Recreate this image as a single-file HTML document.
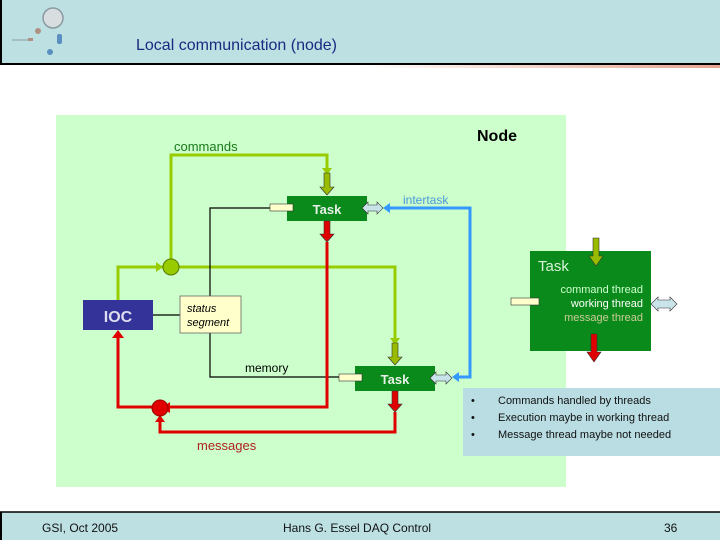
<!DOCTYPE html>
<html><head><style>
body{margin:0;width:720px;height:540px;overflow:hidden;background:#fff;font-family:"Liberation Sans",sans-serif;}
</style></head><body>
<svg width="720" height="540" xmlns="http://www.w3.org/2000/svg" font-family="Liberation Sans, sans-serif">
<defs>
<linearGradient id="g" x1="0" x2="1"><stop offset="0" stop-color="#fff"/><stop offset="0.5" stop-color="#fff"/><stop offset="1" stop-color="#e4a58f"/></linearGradient>
</defs>
<rect x="0" y="0" width="720" height="63" fill="#bde0e3"/>
<line x1="0" y1="64" x2="720" y2="64" stroke="#000" stroke-width="2"/>
<rect x="0" y="65" width="720" height="3" fill="url(#g)"/>
<rect x="0" y="0" width="2" height="64" fill="#000"/>
<circle cx="53" cy="18" r="10" fill="#d8dee0" stroke="#8a9aa0" stroke-width="1.5"/>
<line x1="12" y1="40" x2="30" y2="40" stroke="#8a9aa0"/>
<circle cx="38" cy="31" r="3" fill="#b09080"/>
<rect x="28" y="38" width="5" height="3" fill="#b09080"/>
<rect x="57" y="34" width="5" height="10" rx="2" fill="#5a8fbf"/>
<circle cx="50" cy="52" r="3" fill="#5a8fbf"/>
<text x="136" y="50" font-size="16" fill="#1a2a80">Local communication (node)</text>

<rect x="56" y="115" width="510" height="372" fill="#ccffcc"/>
<text x="477" y="141" font-size="16" font-weight="bold" fill="#000">Node</text>
<text x="174" y="151" font-size="13" fill="#1a7a1a">commands</text>
<text x="403" y="204" font-size="12" fill="#4a9ad8">intertask</text>

<g fill="none" stroke="#99cc00" stroke-width="3">
<polyline points="171,259 171,155 327,155 327,170"/>
<polyline points="118,300 118,267 163,267"/>
<polyline points="179,267 395,267 395,340"/>
</g>
<g fill="none" stroke="#000" stroke-width="1.2">
<polyline points="270,208 210,208 210,296"/>
<polyline points="210,333 210,377 339,377"/>
<line x1="153" y1="315" x2="180" y2="315"/>
</g>
<g fill="none" stroke="#e00000" stroke-width="3">
<polyline points="327,242 327,407 170,407"/>
<polyline points="152,407 118,407 118,336"/>
<polyline points="395,412 395,432 160,432 160,420"/>
</g>
<polygon points="112,338 118,330 124,338" fill="#e00000"/>
<polygon points="170,402 162,408 170,413" fill="#e00000"/>
<polygon points="155,422 160,415 165,422" fill="#e00000"/>
<polygon points="156,262 163,267 156,272" fill="#99cc00"/>
<polygon points="322,168 327,175 332,168" fill="#99cc00"/>
<polygon points="390,338 395,345 400,338" fill="#99cc00"/>
<polyline points="385,208 470,208 470,377 455,377" fill="none" stroke="#3399ff" stroke-width="3"/>
<polygon points="390,203 383,208 390,213" fill="#3399ff"/>
<polygon points="459,372 452,377 459,382" fill="#3399ff"/>

<circle cx="171" cy="267" r="8" fill="#99cc00" stroke="#557700"/>
<circle cx="160" cy="408" r="8" fill="#e00000" stroke="#990000"/>

<rect x="83" y="300" width="70" height="30" fill="#333399"/>
<text x="118" y="322" font-size="16" font-weight="bold" fill="#dde" text-anchor="middle">IOC</text>
<rect x="180" y="296" width="61" height="37" fill="#ffffcc" stroke="#666" stroke-width="0.8"/>
<text x="187" y="312" font-size="11" font-style="italic" fill="#000">status</text>
<text x="187" y="326" font-size="11" font-style="italic" fill="#000">segment</text>
<text x="245" y="372" font-size="12" fill="#000">memory</text>
<text x="197" y="450" font-size="13" fill="#b02020">messages</text>

<!-- Task 1 -->
<rect x="287" y="196" width="80" height="25" fill="#0a8a1a"/>
<text x="327" y="214" font-size="13" font-weight="bold" fill="#e8f0e8" text-anchor="middle">Task</text>
<rect x="270" y="204" width="23" height="7" fill="#ffffcc" stroke="#333" stroke-width="0.6"/>
<!-- Task 2 -->
<rect x="355" y="366" width="80" height="25" fill="#0a8a1a"/>
<text x="395" y="384" font-size="13" font-weight="bold" fill="#e8f0e8" text-anchor="middle">Task</text>
<rect x="339" y="374" width="23" height="7" fill="#ffffcc" stroke="#333" stroke-width="0.6"/>
<!-- Big task -->
<rect x="530" y="251" width="121" height="100" fill="#0a8a1a"/>
<text x="538" y="271" font-size="15" fill="#d8f0d8">Task</text>
<text x="643" y="293" font-size="11" fill="#ccffcc" text-anchor="end">command thread</text>
<text x="643" y="307" font-size="11" fill="#fff" text-anchor="end">working thread</text>
<text x="643" y="321" font-size="11" fill="#cccc99" text-anchor="end">message thread</text>
<rect x="511" y="298" width="28" height="7" fill="#ffffcc" stroke="#333" stroke-width="0.6"/>

<!-- arrows -->
<g stroke="#333" stroke-width="0.6">
<polygon points="324,173 330,173 330,187 334,187 327,195 320,187 324,187" fill="#99bb00"/>
<polygon points="392,343 398,343 398,357 402,357 395,365 388,357 392,357" fill="#99bb00"/>
<polygon points="593,238 599,238 599,256 603,256 596,266 589,256 593,256" fill="#99bb00"/>
<polygon points="324,221 330,221 330,234 334,234 327,242 320,234 324,234" fill="#e00000"/>
<polygon points="392,391 398,391 398,404 402,404 395,412 388,404 392,404" fill="#e00000"/>
<polygon points="591,334 597,334 597,352 601,352 594,362 587,352 591,352" fill="#e00000"/>
<polygon points="362,208 368,202 368,205 377,205 377,202 383,208 377,214 377,211 368,211 368,214" fill="#c8e4ea"/>
<polygon points="430,378 436,372 436,375 446,375 446,372 452,378 446,384 446,381 436,381 436,384" fill="#c8e4ea"/>
<polygon points="651,304 658,297 658,300 670,300 670,297 677,304 670,311 670,308 658,308 658,311" fill="#c8e4ea"/>
</g>

<rect x="463" y="388" width="257" height="68" fill="#b9dde2"/>
<g font-size="11" fill="#111">
<text x="471" y="404">•</text><text x="498" y="404">Commands handled by threads</text>
<text x="471" y="421">•</text><text x="498" y="421">Execution maybe in working thread</text>
<text x="471" y="438">•</text><text x="498" y="438">Message thread maybe not needed</text>
</g>

<rect x="0" y="512" width="720" height="28" fill="#bde0e3"/>
<line x1="0" y1="512" x2="720" y2="512" stroke="#000" stroke-width="1.5"/>
<rect x="0" y="512" width="2" height="28" fill="#000"/>
<g font-size="12" fill="#111">
<text x="42" y="532">GSI, Oct 2005</text>
<text x="283" y="532">Hans G. Essel DAQ Control</text>
<text x="664" y="532">36</text>
</g>
</svg>
</body></html>
